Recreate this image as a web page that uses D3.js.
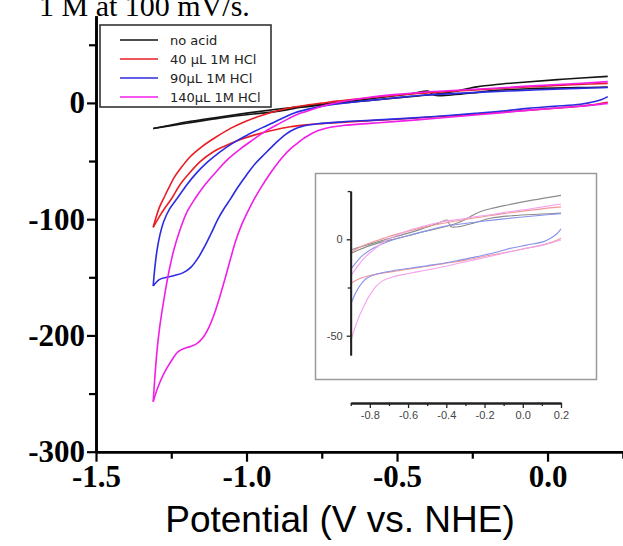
<!DOCTYPE html>
<html>
<head>
<meta charset="utf-8">
<script src="https://cdn.jsdelivr.net/npm/d3@7"></script>
<style>
body { margin: 0; background: #fff; }
</style>
</head>
<body>
<svg id="chart" width="623" height="546"></svg>
<script>
const seriesNames = ['no acid', '40 µL 1M HCl', '90µL 1M HCl', '140µL 1M HCl'];
const xTicks = [-1.5, -1.0, -0.5, 0.0];
const xMinor = [-1.25, -0.75, -0.25, 0.25];
const yTicks = [0, -100, -200, -300];
const yMinor = [50, -50, -150, -250];
const insetXTicks = [-0.8, -0.6, -0.4, -0.2, 0.0, 0.2];
const insetXMinor = [-0.9, -0.7, -0.5, -0.3, -0.1, 0.1];
const insetYTicks = [0, -50];
const insetYMinor = [25, -25];

// [potential V, current] ; every branch starts at the cathodic turn
const noAcidA = [[-1.31,-22],[-1.25,-19],[-1.2,-16.5],[-1.1,-12.5],[-1.0,-8.8],[-0.9,-5.5],[-0.8,-2.5],[-0.7,0.4],[-0.6,3.2],[-0.52,5.7],[-0.45,8],[-0.395,10],[-0.385,8],[-0.375,6.5],[-0.33,6.6],[-0.25,8.6],[-0.17,10.9],[-0.05,12.3],[0.1,13.1],[0.2,13.6]];
const noAcidB = [[-1.31,-22],[-1.2,-17.5],[-1.1,-13.5],[-1.0,-10.2],[-0.9,-7.3],[-0.816,-3.8],[-0.7,-0.5],[-0.6,1.8],[-0.52,3.9],[-0.43,6],[-0.35,8.2],[-0.3,10.3],[-0.265,12.3],[-0.235,13.8],[-0.17,15.8],[-0.08,17.8],[0.05,20.3],[0.2,22.8]];
const hcl40A = [[-1.31,-107],[-1.3,-98],[-1.288,-89],[-1.275,-82],[-1.26,-74],[-1.24,-64],[-1.215,-55],[-1.188,-46.5],[-1.15,-38],[-1.105,-30],[-1.05,-21.5],[-1.0,-15.5],[-0.95,-10.8],[-0.9,-7],[-0.85,-4],[-0.8,-1.9],[-0.75,-0.2],[-0.7,1.5],[-0.6,4.2],[-0.5,6.7],[-0.4,8.6],[-0.3,10.3],[-0.2,11.8],[-0.1,13.3],[0,14.6],[0.1,15.8],[0.2,16.8]];
const hcl40B = [[-1.31,-107],[-1.29,-98],[-1.27,-90],[-1.248,-82],[-1.22,-70],[-1.19,-60.5],[-1.154,-50.5],[-1.11,-42],[-1.071,-37],[-1.02,-31.5],[-0.972,-27.5],[-0.92,-24],[-0.855,-20.5],[-0.8,-18.8],[-0.75,-17.8],[-0.7,-17],[-0.6,-15.5],[-0.5,-14],[-0.4,-12.4],[-0.3,-10.8],[-0.2,-8.8],[-0.1,-7],[0,-5],[0.1,-3],[0.15,-1.6],[0.2,0.6]];
const hcl90A = [[-1.31,-157.5],[-1.305,-143],[-1.298,-128],[-1.288,-114],[-1.275,-102],[-1.255,-91],[-1.23,-82],[-1.2,-71],[-1.165,-60],[-1.13,-51],[-1.09,-42.5],[-1.048,-35],[-1.0,-28],[-0.949,-21.5],[-0.9,-15.5],[-0.839,-8.5],[-0.78,-4.5],[-0.7,-1],[-0.59,2.2],[-0.5,4.5],[-0.415,6.6],[-0.3,8.2],[-0.2,9.5],[-0.1,10.6],[0,11.6],[0.1,12.5],[0.2,13.3]];
const hcl90B = [[-1.31,-157.5],[-1.29,-152],[-1.265,-150],[-1.24,-148.5],[-1.21,-146],[-1.185,-141.5],[-1.16,-133],[-1.138,-123],[-1.115,-111],[-1.095,-100],[-1.075,-91],[-1.053,-82.5],[-1.03,-73],[-1.0,-62],[-0.972,-52.5],[-0.94,-44],[-0.905,-35],[-0.87,-27],[-0.84,-22.5],[-0.816,-20.2],[-0.764,-18],[-0.68,-16.3],[-0.59,-15],[-0.5,-13.7],[-0.415,-12.4],[-0.33,-10.8],[-0.24,-9],[-0.15,-7],[-0.066,-4.7],[0.02,-3],[0.109,-1.2],[0.15,0.8],[0.18,3],[0.2,5.4]];
const hcl140A = [[-1.31,-257],[-1.305,-238],[-1.298,-215],[-1.288,-192],[-1.275,-170],[-1.26,-148],[-1.242,-127],[-1.222,-110],[-1.198,-94],[-1.17,-82],[-1.14,-71],[-1.1,-59],[-1.06,-48],[-1.02,-39.5],[-0.98,-32],[-0.938,-24.5],[-0.9,-19],[-0.86,-13.5],[-0.822,-9],[-0.78,-5.5],[-0.729,-1.5],[-0.65,2.5],[-0.59,4.8],[-0.5,7.3],[-0.415,9.2],[-0.33,10.4],[-0.24,11.8],[-0.15,13],[-0.066,14.4],[0.05,16],[0.2,18.3]];
const hcl140B = [[-1.31,-257],[-1.295,-245],[-1.275,-233],[-1.25,-222],[-1.227,-214],[-1.205,-211],[-1.186,-209.5],[-1.165,-207],[-1.145,-202],[-1.125,-193],[-1.105,-180],[-1.088,-166],[-1.07,-150],[-1.052,-133],[-1.035,-118],[-1.015,-104],[-0.995,-93],[-0.975,-83],[-0.95,-72],[-0.925,-62],[-0.903,-54],[-0.88,-46.5],[-0.856,-40],[-0.83,-34.5],[-0.807,-30],[-0.764,-24],[-0.729,-21.3],[-0.68,-19.5],[-0.59,-17.6],[-0.5,-15.9],[-0.415,-14.2],[-0.33,-12.3],[-0.24,-10.4],[-0.15,-8.4],[-0.066,-6.4],[0.02,-4.6],[0.109,-2.9],[0.2,-0.4]];

const colors = ['#151515', '#ea1c24', '#2b2be2', '#f21ee8'];
const insetColors = ['#8c8c8c', '#f29696', '#8a94ea', '#f5a2ee'];

const series = [
  { name: seriesNames[0], branches: [noAcidA, noAcidB] },
  { name: seriesNames[1], branches: [hcl40A, hcl40B] },
  { name: seriesNames[2], branches: [hcl90A, hcl90B] },
  { name: seriesNames[3], branches: [hcl140A, hcl140B] }
];

const svg = d3.select('#chart');
const serif = "'Liberation Serif', 'Times New Roman', serif";
const sans = "'Liberation Sans', Arial, sans-serif";

const x = d3.scaleLinear().domain([-1.5, 0.25]).range([96, 622.8]);
const y = d3.scaleLinear().domain([-300, 75]).range([451.7, 15.7]);

// cropped caption line above the plot
svg.append('text')
  .attr('x', 39).attr('y', 16)
  .style('font-family', serif).style('font-size', '30px')
  .text('1 M at 100 mV/s.');

// curves
const line = d3.line()
  .x(d => x(d[0])).y(d => y(d[1]))
  .curve(d3.curveCatmullRom.alpha(0.5));

series.forEach((s, i) => {
  s.branches.forEach(b => {
    svg.append('path')
      .attr('d', line(b))
      .attr('fill', 'none')
      .attr('stroke', colors[i])
      .attr('stroke-width', 1.6);
  });
});

// axes
function styleAxis(g) {
  g.selectAll('.domain').attr('stroke', '#000').attr('stroke-width', 2.6);
  g.selectAll('.tick line').attr('stroke', '#000').attr('stroke-width', 2.2);
  g.selectAll('.tick text')
    .style('font-family', serif).style('font-weight', 'bold')
    .style('font-size', '31px').attr('fill', '#000');
}

svg.append('g')
  .attr('transform', 'translate(0,451.7)')
  .call(d3.axisBottom(x).tickValues(xMinor).tickSize(7).tickSizeOuter(0).tickFormat(''))
  .call(styleAxis);
svg.append('g')
  .attr('transform', 'translate(0,451.7)')
  .call(d3.axisBottom(x).tickValues(xTicks).tickSize(10).tickSizeOuter(0).tickPadding(3)
    .tickFormat(d => d.toFixed(1)))
  .call(styleAxis);

svg.append('g')
  .attr('transform', 'translate(96,0)')
  .call(d3.axisLeft(y).tickValues(yMinor).tickSize(7).tickSizeOuter(0).tickFormat(''))
  .call(styleAxis);
svg.append('g')
  .attr('transform', 'translate(96,0)')
  .call(d3.axisLeft(y).tickValues(yTicks).tickSize(9).tickSizeOuter(0).tickPadding(2)
    .tickFormat(d => String(d)))
  .call(styleAxis);

svg.append('text')
  .attr('x', 340).attr('y', 532)
  .attr('text-anchor', 'middle')
  .style('font-family', sans).style('font-size', '37px')
  .text('Potential (V vs. NHE)');

// legend
const legend = svg.append('g');
legend.append('rect')
  .attr('x', 100).attr('y', 25).attr('width', 171).attr('height', 82)
  .attr('fill', '#fff').attr('stroke', '#333').attr('stroke-width', 1.6);
seriesNames.forEach((n, i) => {
  const ly = 40 + i * 19;
  legend.append('line')
    .attr('x1', 120).attr('x2', 158).attr('y1', ly).attr('y2', ly)
    .attr('stroke', colors[i]).attr('stroke-width', 1.6);
  legend.append('text')
    .attr('x', 170).attr('y', ly).attr('dy', '0.36em')
    .style('font-family', "'DejaVu Sans', Verdana, sans-serif").style('font-size', '13px')
    .attr('fill', '#222')
    .text(n);
});

// inset
const xi = d3.scaleLinear().domain([-0.9, 0.2]).range([350.7, 561]);
const yi = d3.scaleLinear().domain([-60, 25]).range([355, 191.1]);

svg.append('rect')
  .attr('x', 315.5).attr('y', 173.5).attr('width', 281).attr('height', 206)
  .attr('fill', '#fff').attr('stroke', '#9a9a9a').attr('stroke-width', 1.5);

svg.append('clipPath').attr('id', 'insetClip')
  .append('rect')
  .attr('x', xi(-0.9)).attr('y', 175)
  .attr('width', xi(0.2) - xi(-0.9) + 1).attr('height', 204);

const lineI = d3.line()
  .x(d => xi(d[0])).y(d => yi(d[1]))
  .curve(d3.curveCatmullRom.alpha(0.5));

const insetG = svg.append('g').attr('clip-path', 'url(#insetClip)');
series.forEach((s, i) => {
  s.branches.forEach(b => {
    insetG.append('path')
      .attr('d', lineI(b))
      .attr('fill', 'none')
      .attr('stroke', insetColors[i])
      .attr('stroke-width', 1.1);
  });
});

function styleInset(g) {
  g.selectAll('.domain').attr('stroke', '#222').attr('stroke-width', 1.8);
  g.selectAll('.tick line').attr('stroke', '#222').attr('stroke-width', 1.3);
  g.selectAll('.tick text')
    .style('font-family', sans).style('font-size', '11px').attr('fill', '#444');
}

svg.append('g')
  .attr('transform', 'translate(350.7,0)')
  .call(d3.axisLeft(yi).tickValues(insetYMinor).tickSize(3).tickSizeOuter(0).tickFormat(''))
  .call(styleInset);
svg.append('g')
  .attr('transform', 'translate(350.7,0)')
  .call(d3.axisLeft(yi).tickValues(insetYTicks).tickSize(4).tickSizeOuter(0).tickPadding(4)
    .tickFormat(d => String(d)))
  .call(styleInset);

svg.append('g')
  .attr('transform', 'translate(0,403)')
  .call(d3.axisBottom(xi).tickValues(insetXMinor).tickSize(3).tickSizeOuter(0).tickFormat(''))
  .call(styleInset);
svg.append('g')
  .attr('transform', 'translate(0,403)')
  .call(d3.axisBottom(xi).tickValues(insetXTicks).tickSize(5).tickSizeOuter(0).tickPadding(3)
    .tickFormat(d => d.toFixed(1)))
  .call(styleInset);
</script>
</body>
</html>
